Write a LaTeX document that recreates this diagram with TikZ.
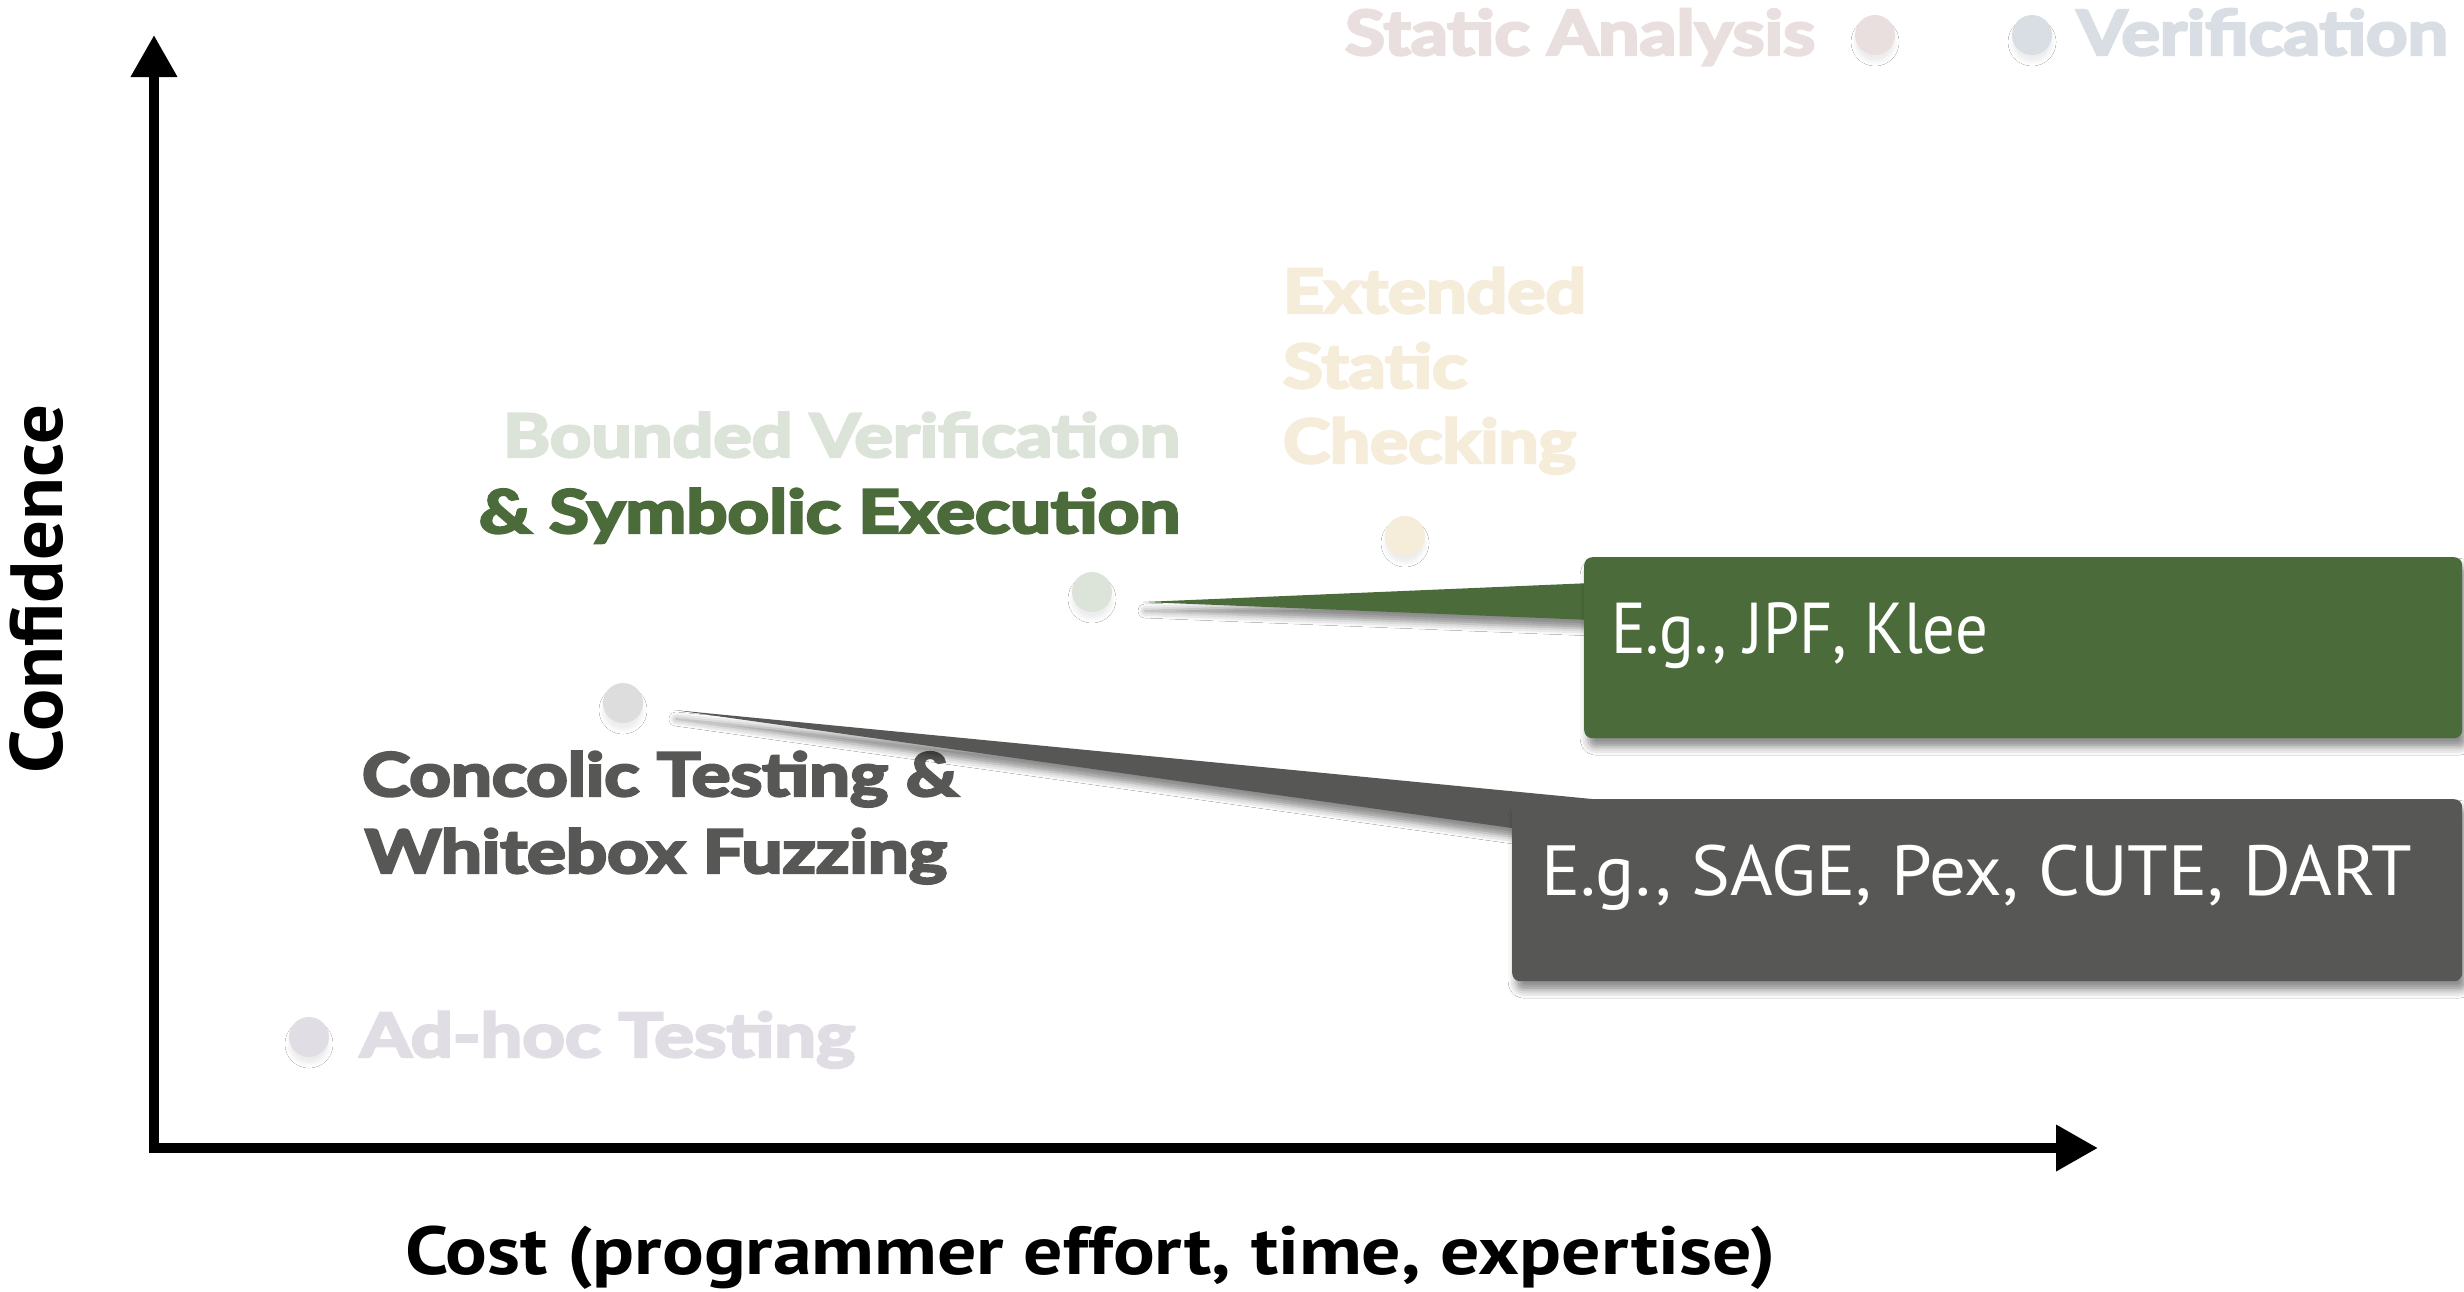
\documentclass[tikz,border=0pt]{standalone}
\usepackage{fontspec}
\setmainfont{Lato}
\newfontfamily\ptsans{PT Sans}
\newfontfamily\heavyfont{Lato}[BoldFeatures={FakeBold=4}]
\usepackage{graphicx}
\usetikzlibrary{arrows.meta,shadows.blur}

\definecolor{saPink}{HTML}{EADFDF}
\definecolor{verGray}{HTML}{D9DDE4}
\definecolor{escBeige}{HTML}{F5ECDA}
\definecolor{bvLight}{HTML}{DCE4DA}
\definecolor{seGreen}{HTML}{4B6C3A}
\definecolor{ctGray}{HTML}{575755}
\definecolor{ctDot}{HTML}{DDDDDD}
\definecolor{adLav}{HTML}{E0DEE4}

\newcommand\fitt[3]{\resizebox{#1}{\height}{\fontsize{#2}{#2}\selectfont #3}}

\begin{document}
\begin{tikzpicture}[x=1pt,y=-1pt,
  txt/.style={inner sep=0pt, outer sep=0pt},
  heavy/.style={txt, font=\heavyfont\bfseries},
  dotnode/.style={circle, minimum size=40pt, inner sep=0pt, draw=none,
     blur shadow={shadow xshift=0pt, shadow yshift=-7pt, shadow blur radius=4pt, shadow opacity=7}},
  callout/.style={rectangle, rounded corners=8pt, inner sep=0pt, anchor=north west,
     blur shadow={shadow xshift=4pt, shadow yshift=-9pt, shadow blur radius=8pt, shadow opacity=45}},
  pointer/.style={blur shadow={shadow xshift=2pt, shadow yshift=-9pt, shadow blur radius=7pt, shadow opacity=45}},
  axisline/.style={line width=10pt, -{Triangle[width=44pt,length=42pt]}}
]
\useasboundingbox (0,0) rectangle (2464,1291);
\fill[white] (0,0) rectangle (2464,1291);

% axes
\coordinate (ybot) at (154,1153);
\coordinate (ytip) at (154,35);
\coordinate (xleft) at (149,1148);
\coordinate (xtip) at (2098,1148);
\draw[axisline] (ybot) -- (ytip);
\draw[axisline] (xleft) -- (xtip);

\node[txt, rotate=90, anchor=base] (conf) at (62,589)
  {\fitt{368pt}{74}{\ptsans\bfseries Confidence}};
\node[txt, anchor=base west] (cost) at (405,1274)
  {\fitt{1371pt}{68}{\ptsans\bfseries Cost (programmer effort, time, expertise)}};

% top legend
\node[heavy, anchor=base west, text=saPink] (sa) at (1345,55)
  {\fitt{470pt}{62}{Static Analysis}};
\node[dotnode, fill=saPink] (sadot) at (1875,35) {};
\node[dotnode, fill=verGray] (verdot) at (2032,35) {};
\node[heavy, anchor=base west, text=verGray] (ver) at (2077,55)
  {\fitt{371pt}{62}{Verification}};

% extended static checking
\node[heavy, anchor=base west, text=escBeige] (esc1) at (1283,313)
  {\fitt{303pt}{61}{Extended}};
\node[heavy, anchor=base west, text=escBeige] (esc2) at (1283,388)
  {\fitt{184pt}{61}{Static}};
\node[heavy, anchor=base west, text=escBeige] (esc3) at (1283,463)
  {\fitt{293pt}{61}{Checking}};
\node[dotnode, fill=escBeige] (escdot) at (1405,536) {};

% bounded verification & symbolic execution
\node[heavy, anchor=base east, text=bvLight] (bv) at (1180,457)
  {\fitt{677pt}{60}{Bounded Verification}};
\node[heavy, anchor=base east, text=seGreen] (se) at (1180,533)
  {\fitt{701pt}{60}{\& Symbolic Execution}};
\node[dotnode, fill=bvLight] (sedot) at (1092,592) {};

% concolic testing
\node[dotnode, fill=ctDot] (ctdot) at (623,703) {};
\node[heavy, anchor=base west, text=ctGray] (ct1) at (362,796)
  {\fitt{596pt}{60}{Concolic Testing \&}};
\node[heavy, anchor=base west, text=ctGray] (ct2) at (365,873)
  {\fitt{582pt}{60}{Whitebox Fuzzing}};

% ad-hoc testing
\node[dotnode, fill=adLav] (addot) at (309,1037) {};
\node[heavy, anchor=base west, text=adLav] (ad) at (360,1057)
  {\fitt{495pt}{61}{Ad-hoc Testing}};

% callouts
\coordinate (gtip) at (1143,602);
\coordinate (ctip) at (674,710);
\fill[seGreen, pointer] (gtip) -- (1592,583) -- (1592,620) -- cycle;
\node[callout, fill=seGreen, minimum width=878pt, minimum height=181pt] (gbox) at (1584,557) {};
\node[txt, anchor=base west, text=white] (gtext) at (1611,653)
  {\fitt{377pt}{72}{\ptsans E.g., JPF, Klee}};

\fill[ctGray, pointer] (ctip) -- (1592,799) -- (1592,830) -- (1512,828) -- cycle;
\node[callout, fill=ctGray, minimum width=950pt, minimum height=182pt] (cbox) at (1512,799) {};
\node[txt, anchor=base west, text=white] (ctext) at (1541,895)
  {\fitt{871pt}{71}{\ptsans E.g., SAGE, Pex, CUTE, DART}};
\end{tikzpicture}
\end{document}
